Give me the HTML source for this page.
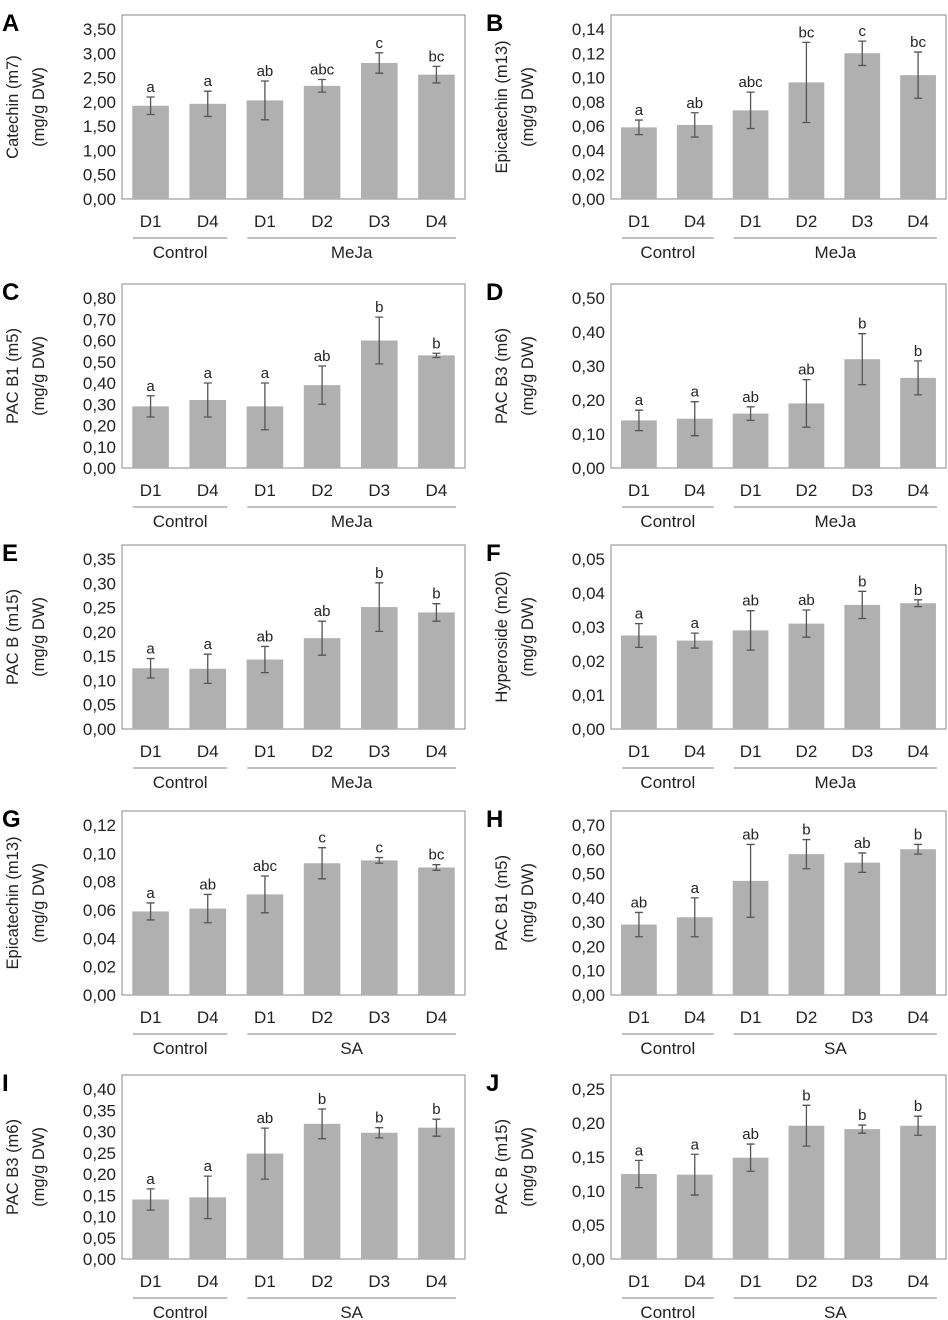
<!DOCTYPE html>
<html><head><meta charset="utf-8"><style>
body{margin:0;background:#fff;}
svg{display:block;font-family:"Liberation Sans",Arial,sans-serif;}
</style></head><body>
<svg id="fig" width="948" height="1320" viewBox="0 0 948 1320"></svg>
<script>
const categories = ["D1","D4","D1","D2","D3","D4"];
const groupsMeJa = ["Control","MeJa"];
const groupsSA = ["Control","SA"];
const valsA = [1.92,1.96,2.03,2.33,2.80,2.56];
const errA = [0.18,0.26,0.40,0.13,0.21,0.17];
const letA = ["a","a","ab","abc","c","bc"];
const valsB = [0.059,0.061,0.073,0.096,0.120,0.102];
const errB = [0.006,0.010,0.015,0.033,0.010,0.019];
const letB = ["a","ab","abc","bc","c","bc"];
const valsC = [0.29,0.32,0.29,0.39,0.60,0.53];
const errC = [0.05,0.08,0.11,0.09,0.11,0.01];
const letC = ["a","a","a","ab","b","b"];
const valsD = [0.14,0.145,0.16,0.19,0.32,0.265];
const errD = [0.03,0.05,0.02,0.07,0.075,0.05];
const letD = ["a","a","ab","ab","b","b"];
const valsE = [0.125,0.124,0.143,0.187,0.251,0.24];
const errE = [0.02,0.03,0.027,0.035,0.05,0.018];
const letE = ["a","a","ab","ab","b","b"];
const valsF = [0.0275,0.026,0.029,0.031,0.0365,0.037];
const errF = [0.0035,0.0022,0.0058,0.004,0.004,0.001];
const letF = ["a","a","ab","ab","b","b"];
const valsG = [0.059,0.061,0.071,0.093,0.095,0.090];
const errG = [0.006,0.010,0.013,0.011,0.002,0.002];
const letG = ["a","ab","abc","c","c","bc"];
const valsH = [0.29,0.32,0.47,0.58,0.545,0.60];
const errH = [0.05,0.08,0.15,0.06,0.04,0.02];
const letH = ["ab","a","ab","b","ab","b"];
const valsI = [0.14,0.145,0.248,0.318,0.297,0.309];
const errI = [0.025,0.05,0.06,0.035,0.012,0.02];
const letI = ["a","a","ab","b","b","b"];
const valsJ = [0.125,0.124,0.149,0.196,0.191,0.196];
const errJ = [0.02,0.03,0.02,0.03,0.006,0.014];
const letJ = ["a","a","ab","b","b","b"];

const panels = [
 {id:"A",t:"Catechin (m7)",v:valsA,e:errA,l:letA,max:3.5,step:0.5,g:groupsMeJa,col:0,row:0},
 {id:"B",t:"Epicatechin (m13)",v:valsB,e:errB,l:letB,max:0.14,step:0.02,g:groupsMeJa,col:1,row:0},
 {id:"C",t:"PAC B1  (m5)",v:valsC,e:errC,l:letC,max:0.8,step:0.1,g:groupsMeJa,col:0,row:1},
 {id:"D",t:"PAC B3  (m6)",v:valsD,e:errD,l:letD,max:0.5,step:0.1,g:groupsMeJa,col:1,row:1},
 {id:"E",t:"PAC B (m15)",v:valsE,e:errE,l:letE,max:0.35,step:0.05,g:groupsMeJa,col:0,row:2},
 {id:"F",t:"Hyperoside (m20)",v:valsF,e:errF,l:letF,max:0.05,step:0.01,g:groupsMeJa,col:1,row:2},
 {id:"G",t:"Epicatechin (m13)",v:valsG,e:errG,l:letG,max:0.12,step:0.02,g:groupsSA,col:0,row:3},
 {id:"H",t:"PAC B1 (m5)",v:valsH,e:errH,l:letH,max:0.7,step:0.1,g:groupsSA,col:1,row:3},
 {id:"I",t:"PAC B3 (m6)",v:valsI,e:errI,l:letI,max:0.4,step:0.05,g:groupsSA,col:0,row:4},
 {id:"J",t:"PAC B (m15)",v:valsJ,e:errJ,l:letJ,max:0.25,step:0.05,g:groupsSA,col:1,row:4}
];
const rowBottoms=[199,468,729,995,1259];
const colLeft=[122,611], colRight=[465,946];
const NS="http://www.w3.org/2000/svg";
const svg=document.getElementById("fig");
function mk(tag,attrs,parent,text){const el=document.createElementNS(NS,tag);for(const k in attrs)el.setAttribute(k,attrs[k]);if(text!==undefined)el.textContent=text;(parent||svg).appendChild(el);return el;}

panels.forEach(p=>{
 const g=mk("g",{});
 
 
 const L=colLeft[p.col],R=colRight[p.col],B=rowBottoms[p.row],T=B-184;
 const W=R-L,cw=W/6;
 const y=v=>B-v/p.max*170;
 const x=i=>L+cw*(i+0.5);
 const pl=mk("text",{x:p.col?486:2,y:T+16,"font-size":24,"font-weight":"bold",fill:"#000"},g,p.id);
 
 
 const box=mk("rect",{x:L,y:T,width:W,height:184,fill:"none",stroke:"#8a8a8a","stroke-width":1},g);
 
 
 const n=Math.round(p.max/p.step);
 for(let k=0;k<=n;k++){
  const v=k*p.step;
  const tl=mk("text",{x:L-6,y:y(v)+6,"font-size":17,"text-anchor":"end",fill:"#222"},g,v.toFixed(2).replace(".",","));
  
  
 }
 const cy=T+92;
 const t1=mk("text",{x:0,y:0,"font-size":16.5,"text-anchor":"middle",fill:"#222",transform:`translate(${L-104},${cy}) rotate(-90)`},g,p.t);
 
 
 const t2=mk("text",{x:0,y:0,"font-size":16.5,"text-anchor":"middle",fill:"#222",transform:`translate(${L-78},${cy}) rotate(-90)`},g,"(mg/g DW)");
 
 
 const bw=cw*0.64;
 p.v.forEach((v,i)=>{
  const b=mk("rect",{x:x(i)-bw/2,y:y(v),width:bw,height:B-y(v),fill:"#b0b0b0"},g);
  
  
  const e=p.e[i],yt=y(v+e),yb=y(Math.max(0,v-e));
  const eb=mk("path",{d:`M${x(i)},${yt}V${yb}M${x(i)-4},${yt}H${x(i)+4}M${x(i)-4},${yb}H${x(i)+4}`,stroke:"#555","stroke-width":1.3,fill:"none"},g);
  
  
  const lt=mk("text",{x:x(i),y:yt-5,"font-size":15,"text-anchor":"middle",fill:"#222"},g,p.l[i]);
  
  
  const cl=mk("text",{x:x(i),y:B+28,"font-size":17,"text-anchor":"middle",fill:"#222"},g,categories[i]);
  
  
 });
 [[0,2],[2,6]].forEach((r,gi)=>{
  const x1=L+cw*r[0]+11,x2=L+cw*r[1]-9;
  const ln=mk("line",{x1:x1,x2:x2,y1:B+39,y2:B+39,stroke:"#999","stroke-width":1.3},g);
  
  
  const gl=mk("text",{x:(x1+x2)/2,y:B+59,"font-size":17,"text-anchor":"middle",fill:"#222"},g,p.g[gi]);
  
  
 });
});
</script>
</body></html>
